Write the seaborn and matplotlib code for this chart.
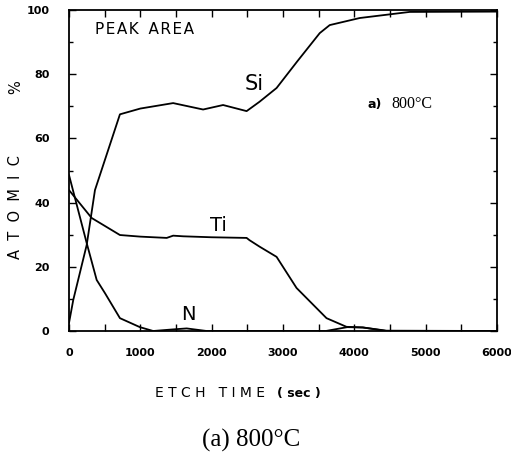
import matplotlib
matplotlib.use("Agg")
import matplotlib.pyplot as plt
import seaborn as sns
import pandas as pd
import numpy as np

# ---- data ----
t_si = [0, 60, 248, 364, 714, 1000, 1460, 1880, 2160, 2490, 2670, 2910, 3200, 3515, 3655, 4075, 4775, 6000]
si   = [2.5, 9.7, 26.8, 43.9, 67.5, 69.3, 71, 69, 70.4, 68.5, 71.4, 75.7, 84, 92.8, 95.3, 97.5, 99.4, 99.5]

t_ti = [0, 318, 714, 1000, 1370, 1460, 1600, 2000, 2490, 2530, 2670, 2910, 3190, 3610, 3890, 4120, 4450, 6000]
ti   = [43.9, 35.2, 29.9, 29.4, 29.0, 29.7, 29.5, 29.2, 29.0, 28.3, 26.3, 23.1, 13.4, 4.0, 1.3, 1.1, 0.1, 0]

t_n = [0, 248, 388, 504, 714, 994, 1180, 1460, 1650, 1930, 3600, 3900, 4120, 4450, 6000]
n   = [48.6, 27.4, 15.9, 11.8, 4.0, 1.2, 0.0, 0.5, 0.8, 0.0, 0.0, 1.2, 1.1, 0.0, 0.0]

x_ticks = [0, 1000, 2000, 3000, 4000, 5000, 6000]
y_ticks = [0, 20, 40, 60, 80, 100]

sns.set_style("ticks")
plt.rcParams['font.family'] = ['DejaVu Sans']
plt.rcParams['text.color'] = 'black'
plt.rcParams['xtick.color'] = 'black'
plt.rcParams['ytick.color'] = 'black'
plt.rcParams['axes.labelcolor'] = 'black'

W, H = 511, 463
fig = plt.figure(figsize=(W / 100, H / 100), dpi=100)
ax = fig.add_axes([69 / W, 1 - 331 / H, (497 - 69) / W, (331 - 10) / H])

for tt, vv in [(t_si, si), (t_ti, ti), (t_n, n)]:
    df = pd.DataFrame({"t": tt, "v": vv})
    sns.lineplot(data=df, x="t", y="v", ax=ax, color="black", linewidth=1.3, estimator=None, sort=False)

ax.set_xlim(0, 6000)
ax.set_ylim(0, 100)
ax.set_xticks(x_ticks)
ax.set_yticks(y_ticks)
ax.set_xticks(np.arange(0, 6001, 500), minor=True)
ax.set_yticks(np.arange(0, 101, 10), minor=True)
ax.set_xticklabels([str(v) for v in x_ticks], fontsize=8, fontweight="bold")
ax.set_yticklabels([str(v) for v in y_ticks], fontsize=8, fontweight="bold")
ax.tick_params(axis="both", which="both", direction="in", top=True, right=True,
               length=5, width=1.0, color="black", labelcolor="black")
ax.tick_params(axis="x", which="major", pad=12)
ax.tick_params(axis="y", which="major", pad=14)
ax.tick_params(axis="x", which="minor", length=5)
ax.tick_params(axis="y", which="minor", length=3)
for s in ax.spines.values():
    s.set_visible(True)
    s.set_linewidth(1.3)
    s.set_color("black")
ax.set_xlabel("")
ax.set_ylabel("")

hs = "\u200a"
# in-plot labels
ax.text(364, 93.8, hs.join("PEAK") + "  " + hs.join("AREA"), fontsize=11, ha="left", va="center")
ax.text(2590, 77, "Si", fontsize=15, ha="center", va="center")
ax.text(2100, 33, "Ti", fontsize=14, ha="center", va="center")
ax.text(1680, 5.2, "N", fontsize=14, ha="center", va="center")
ax.text(4290, 70.7, "a)", fontsize=9, fontweight="bold", ha="center", va="center")
ax.text(4800, 70.7, "800°C", fontsize=11.5, family=["Liberation Serif"], ha="center", va="center")

# axis titles
fig.text(16 / W, 1 - 207 / H, "A  T  O  M  I  C", rotation=90, fontsize=10.5,
         ha="center", va="center")
fig.text(16 / W, 1 - 87 / H, "%", rotation=90, fontsize=10.5, ha="center", va="center")
fig.text(155 / W, 1 - 393 / H, "E T C H   T I M E", fontsize=10, ha="left", va="center")
fig.text(277 / W, 1 - 393 / H, "( sec )", fontsize=9, fontweight="bold", ha="left", va="center")

# caption
fig.text(251 / W, 1 - 440 / H, "(a) 800°C", fontsize=18, family=["Liberation Serif"],
         ha="center", va="center")

fig.savefig("out.png", dpi=100)
